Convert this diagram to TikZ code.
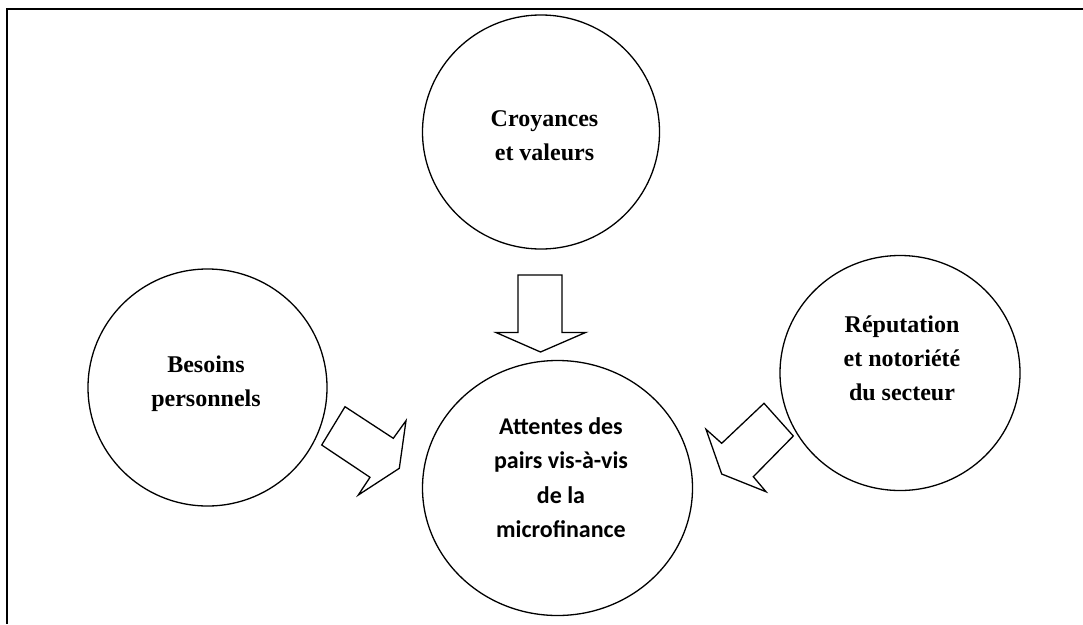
\documentclass[tikz,border=0pt]{standalone}
\usepackage{fontspec}
\setmainfont{Liberation Serif}
\newfontfamily\sansb{Carlito}
\usetikzlibrary{shapes.geometric}
\begin{document}
\begin{tikzpicture}[x=1pt,y=-1pt,
  bubble/.style={draw=black,line width=1.3pt,ellipse,inner sep=0pt},
  serlab/.style={align=center,font=\fontsize{24}{34}\selectfont\bfseries},
  sanlab/.style={align=center,font=\fontsize{24}{34.5}\selectfont\sansb\bfseries},
  blockarrow/.style={draw=black,line width=1.3pt,line join=miter,fill=white},
  frameline/.style={draw=black,line width=2.2pt}]
\useasboundingbox (0,0) rectangle (1083,624);
% frame
\draw[frameline] (1083,9) -- (7,9) -- (7,624);
% circles
\node[bubble,minimum width=237pt,minimum height=234pt] (c1) at (541,132) {};
\node[bubble,minimum width=239pt,minimum height=237pt] (c2) at (207.5,387.5) {};
\node[bubble,minimum width=240pt,minimum height=235pt] (c3) at (900,373) {};
\node[bubble,minimum width=270pt,minimum height=255pt] (c4) at (557.5,488) {};
% texts
\node[serlab] (t1) at (544.5,136) {Croyances\\et valeurs};
\node[serlab] (t2) at (206,384) {Besoins\\personnels};
\node[serlab] (t3) at (902,358.5) {Réputation\\et notoriété\\du secteur};
\node[sanlab] (t4) at (561,477.5) {Attentes des\\pairs vis-à-vis\\de la\\microfinance};
% block arrows
\draw[blockarrow] (518,275) -- (562,275) -- (562,332.5) -- (585.5,332.5)
  -- (540.5,352) -- (496,332.5) -- (518,332.5) -- cycle;
\draw[blockarrow] (345,406.7) -- (393.3,438.3) -- (406,420.7) -- (399.3,468.3)
  -- (358.3,495) -- (370,477.3) -- (321.7,445) -- cycle;
\draw[blockarrow] (764,403.3) -- (793.3,436) -- (753.3,476.7) -- (766,491.7)
  -- (721.7,474) -- (706,429.3) -- (721.7,443.3) -- cycle;
\end{tikzpicture}
\end{document}
